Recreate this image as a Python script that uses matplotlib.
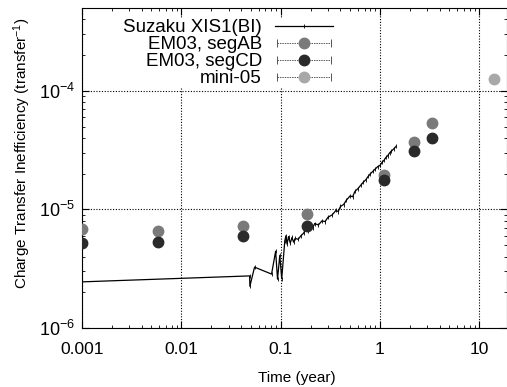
import matplotlib
matplotlib.use("Agg")
import matplotlib.pyplot as plt
from matplotlib.ticker import FixedLocator, LogLocator, NullFormatter
from matplotlib.legend_handler import HandlerErrorbar

plt.rcParams['font.family'] = ['Liberation Sans', 'DejaVu Sans']
plt.rcParams['mathtext.fontset'] = 'custom'
plt.rcParams['mathtext.rm'] = 'Liberation Sans'
plt.rcParams['mathtext.it'] = 'Liberation Sans:italic'
plt.rcParams['mathtext.bf'] = 'Liberation Sans:bold'

# Suzaku XIS1(BI) time series
suzaku_t = [0.001, 0.0487, 0.049, 0.0546, 0.081, 0.089, 0.093, 0.098, 0.1025,
            0.11, 0.113, 0.116, 0.12, 0.125, 0.13, 0.135, 0.14, 0.15, 0.16,
            0.17, 0.18, 0.19, 0.20, 0.21, 0.22, 0.24, 0.26, 0.28, 0.30, 0.33,
            0.36, 0.38, 0.40, 0.43, 0.46, 0.50, 0.53, 0.56, 0.60, 0.64, 0.68,
            0.72, 0.76, 0.80, 0.85, 0.90, 0.95, 1.0, 1.05, 1.1, 1.15, 1.2,
            1.25, 1.3, 1.38, 1.45]
suzaku_cti = [2.45e-6, 2.75e-6, 2.25e-6, 3.26e-6, 2.85e-6, 4.44e-6, 2.58e-6,
              4.1e-6, 2.6e-6, 5.4e-6, 6.0e-6, 5.1e-6, 5.9e-6, 5.2e-6, 5.8e-6,
              5.3e-6, 5.7e-6, 5.6e-6, 6.0e-6, 6.3e-6, 6.9e-6, 6.6e-6, 7.2e-6,
              7.0e-6, 7.6e-6, 7.4e-6, 8.0e-6, 7.9e-6, 8.6e-6, 9.0e-6, 9.8e-6,
              9.6e-6, 1.06e-5, 1.1e-5, 1.2e-5, 1.3e-5, 1.28e-5, 1.42e-5, 1.5e-5,
              1.6e-5, 1.7e-5, 1.78e-5, 1.9e-5, 2.0e-5, 2.1e-5, 2.2e-5, 2.3e-5,
              2.35e-5, 2.5e-5, 2.6e-5, 2.75e-5, 2.85e-5, 3.0e-5, 3.1e-5,
              3.25e-5, 3.4e-5]

# EM03 segAB
ab_t = [0.001, 0.00586, 0.042, 0.183, 1.1, 2.2, 3.35]
ab_cti = [6.9e-6, 6.6e-6, 7.3e-6, 9.2e-6, 1.95e-5, 3.7e-5, 5.4e-5]
# EM03 segCD
cd_t = [0.001, 0.00586, 0.042, 0.183, 1.1, 2.2, 3.35]
cd_cti = [5.2e-6, 5.3e-6, 6.0e-6, 7.2e-6, 1.78e-5, 3.1e-5, 4.0e-5]
# mini-05
mini_t = [14.2]
mini_cti = [1.26e-4]

xticks = [0.001, 0.01, 0.1, 1, 10]
xticklabels = ['0.001', '0.01', '0.1', '1', '10']
yticks = [1e-6, 1e-5, 1e-4]
yticklabels = [r'$10^{-6}$', r'$10^{-5}$', r'$10^{-4}$']

c_ab, c_cd, c_mini = '#7a7a7a', '#2a2a2a', '#a8a8a8'

fig = plt.figure(figsize=(5.07, 3.87), dpi=100)
ax = fig.add_axes([82/507, 1-328/387, (507-82)/507, (328-8)/387])

h_suz, = ax.plot(suzaku_t, suzaku_cti, color='black', lw=0.9, label='Suzaku XIS1(BI)',
                 marker='|', markersize=3.5, markeredgewidth=0.6, zorder=3)

ax.plot(ab_t, ab_cti, 'o', color=c_ab, markersize=7.5, zorder=4)
ax.plot(cd_t, cd_cti, 'o', color=c_cd, markersize=7.5, zorder=4)
ax.plot(mini_t, mini_cti, 'o', color=c_mini, markersize=7.5, zorder=4)

# legend proxies (errorbar style, drawn at NaN so invisible on the axes)
handles = [h_suz]
labels = ['Suzaku XIS1(BI)', 'EM03, segAB', 'EM03, segCD', 'mini-05']
for c in (c_ab, c_cd, c_mini):
    eb = ax.errorbar([float('nan')], [float('nan')], xerr=[1.0], fmt='o', color=c,
                     markersize=7.5, ecolor='#555555', elinewidth=0.7, capsize=3,
                     capthick=0.7)
    eb[2][0].set_linestyle((0, (1.5, 1)))
    handles.append(eb)

ax.set_xscale('log')
ax.set_yscale('log')
ax.set_xlim(0.001, 19)
ax.set_ylim(1e-6, 5e-4)

ax.xaxis.set_major_locator(FixedLocator(xticks))
ax.set_xticklabels(xticklabels)
ax.yaxis.set_major_locator(FixedLocator(yticks))
ax.set_yticklabels(yticklabels)
ax.xaxis.set_minor_locator(LogLocator(base=10, subs=range(2, 10), numticks=20))
ax.yaxis.set_minor_locator(LogLocator(base=10, subs=range(2, 10), numticks=20))
ax.xaxis.set_minor_formatter(NullFormatter())
ax.yaxis.set_minor_formatter(NullFormatter())

ax.tick_params(which='both', direction='in', top=True, right=True)
ax.tick_params(axis='x', labelsize=12.5, pad=10)
ax.tick_params(axis='y', labelsize=13, pad=5)
ax.tick_params(which='major', length=5, width=0.8)
ax.tick_params(which='minor', length=2.5, width=0.6)

ax.grid(True, which='major', color='black', linestyle=(0, (1, 1.5)), lw=0.8)
for s in ax.spines.values():
    s.set_linewidth(0.8)

ax.set_xlabel('Time (year)', fontsize=11)
ax.xaxis.set_label_coords(0.505, -0.134)
ax.set_ylabel(r'Charge Transfer Inefficiency (transfer$^{-1}$)', fontsize=11)
ax.yaxis.set_label_coords(-0.115, 0.545)

ax.legend(handles, labels, loc='upper left', bbox_to_anchor=(0.075, 0.995),
          frameon=True, facecolor='white', edgecolor='none', framealpha=1,
          fancybox=False, markerfirst=False, fontsize=13.5, handlelength=3.1,
          labelspacing=0.0, handletextpad=0.7, borderpad=0.0,
          handler_map={type(handles[1]): HandlerErrorbar(xerr_size=1.45)})

fig.savefig('out.png', dpi=100)
